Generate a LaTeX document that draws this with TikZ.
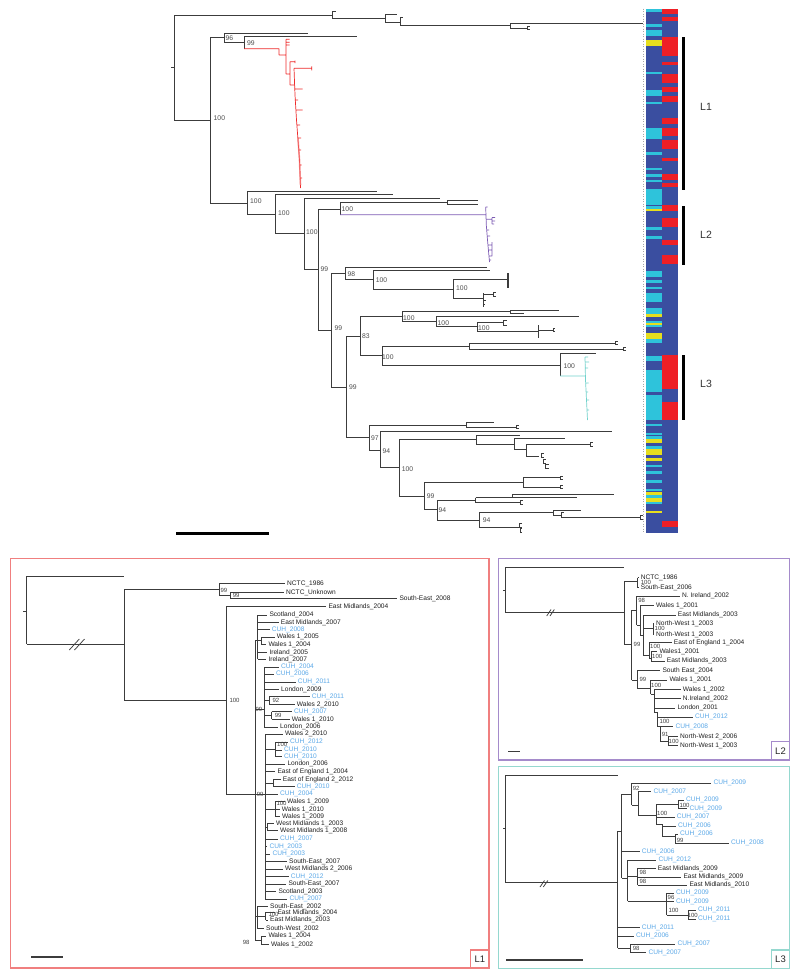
\documentclass[tikz,border=0pt]{standalone}
\usepackage{fontspec}
\setmainfont{Liberation Sans}
\definecolor{brc}{HTML}{3C3C3C}
\definecolor{cuh}{HTML}{5AA8E8}
\definecolor{hblue}{HTML}{3A4EA0}
\definecolor{hcyan}{HTML}{2EC3DB}
\definecolor{hyel}{HTML}{E6DE1E}
\definecolor{hred}{HTML}{EE1F26}
\definecolor{cred}{HTML}{EE2B2B}
\definecolor{cpur}{HTML}{7D5CB4}
\definecolor{ctea}{HTML}{72D2CC}
\definecolor{fLa}{HTML}{F07F7F}
\definecolor{fLb}{HTML}{A58BCB}
\definecolor{fLc}{HTML}{95D8CF}
\newcounter{nn}
\tikzset{
 br/.style={draw=brc,line width=0.9pt},
 pbr/.style={draw=brc,line width=0.75pt},
 lab/.style={anchor=west,inner xsep=2.2pt,inner ysep=0pt,font=\fontsize{6.6}{7}\selectfont,text=black!88},
 cu/.style={text=cuh},
 bsv/.style={anchor=west,inner sep=0pt,font=\fontsize{6}{6.5}\selectfont,text=black!75},
 msv/.style={anchor=west,inner sep=0pt,font=\fontsize{6.8}{7}\selectfont,text=black!70},
 biglab/.style={anchor=west,inner sep=0pt,font=\fontsize{10.5}{12}\selectfont,text=black!80},
 boxlab/.style={inner sep=0pt,font=\fontsize{9.5}{10}\selectfont,text=black!85},
}
\newcommand{\leafl}[5][]{\stepcounter{nn}\edef\lnm{n\arabic{nn}}\node[lab,#1] (\lnm) at (#4-2.2,#3) {#5};\draw[pbr] (#2,#3) -- (\lnm.west);}
\newcommand{\suppv}[3]{\stepcounter{nn}\node[bsv] (n\arabic{nn}) at (#1,#2) {#3};}
\newcommand{\mainsv}[3]{\stepcounter{nn}\node[msv] (n\arabic{nn}) at (#1,#2) {#3};}
\newcommand{\frk}[4]{\draw[br] (#1,#2-#3)--(#1,#2+#3) (#1,#2-#3)--(#1+#4,#2-#3) (#1,#2+#3)--(#1+#4,#2+#3);}
\begin{document}
\begin{tikzpicture}[x=1pt,y=-1pt]
\useasboundingbox (0,0) rectangle (800,977);
\fill[white] (0,0) rectangle (800,977);
% ================= MAIN TREE =================
\draw[br]
 (171,67)--(174,67) (174,15)--(174,120)
 (174,15)--(332,15) (332,11)--(332,18) (332,11)--(336,11) (332,18)--(385,18)
 (385,14)--(385,22) (385,14)--(397,14) (385,22)--(400,22) (400,17.5)--(400,25.7) (400,17.5)--(403,17.5)
 (400,25.7)--(510,25.7) (510,23.4)--(510,28) (510,23.4)--(643,23.4) (510,28)--(527,28)
 (174,120)--(210,120) (210,37)--(210,203)
 (210,37)--(224,37) (224,33)--(224,42) (224,33)--(308,33) (224,42)--(244,42) (244,36)--(244,48.7) (244,36)--(357,36)
 (210,203)--(247,203) (247,191.7)--(247,214) (247,191.7)--(377,191.7)
 (247,214)--(275,214) (275,194.7)--(275,233.7) (275,194.7)--(393,194.7)
 (275,233.7)--(304,233.7) (304,198)--(304,269) (304,198)--(440,198)
 (304,269)--(318,269) (318,209)--(318,330)
 (318,209)--(340,209) (340,202.7)--(340,214.7) (340,202.7)--(447,202.7) (447,200.7)--(447,204.7) (447,200.7)--(478,200.7) (447,204.7)--(478,204.7)
 (318,330)--(331,330) (331,273)--(331,387)
 (331,273)--(345,273) (345,267)--(345,279) (345,267)--(487,267)
 (345,279)--(373,279) (373,270)--(373,289) (373,270)--(490,270)
 (373,289)--(453,289) (453,279)--(453,298) (453,279)--(508,279)
 (453,298)--(483,298) (483,293)--(483,307) (483,294.3)--(493,294.3) (483,300)--(486,300) (483,304)--(485,304)
 (331,387)--(346,387) (346,336)--(346,437.7)
 (346,336)--(360,336) (360,316.7)--(360,355.7)
 (360,316.7)--(402,316.7) (402,311.7)--(402,321.7) (402,311.7)--(510,311.7) (510,310)--(510,313.3) (510,310)--(559,310) (510,313.3)--(524,313.3)
 (402,321.7)--(436,321.7) (436,316.7)--(436,326.7) (436,316.7)--(579,316.7)
 (436,326.7)--(477,326.7) (477,322.7)--(477,331.7) (477,322.7)--(503,322.7) (477,331.7)--(538,331.7) (538,325)--(538,338) (538,330)--(553,330)
 (360,355.7)--(382,355.7) (382,346)--(382,365) (382,346)--(469,346) (469,343)--(469,349) (469,343)--(615,343) (469,349)--(623,349)
 (382,365)--(560,365) (560,353)--(560,376) (560,353)--(596,353)
 (346,437.7)--(369,437.7) (369,425)--(369,450)
 (369,425)--(466,425) (466,422.7)--(466,427.3) (466,422.7)--(494,422.7) (466,427.3)--(516,427.3)
 (369,450)--(380,450) (380,431.7)--(380,467.7) (380,431.7)--(612,431.7)
 (380,467.7)--(399,467.7) (399,439.5)--(399,496)
 (399,439.5)--(476,439.5) (476,435)--(476,444) (476,435)--(520,435) (476,444)--(514.3,444)
 (514.3,438.3)--(514.3,449.3) (514.3,438.3)--(565,438.3) (514.3,449.3)--(526,449.3)
 (526,444.3)--(526,456) (526,444.3)--(590,444.3) (526,456)--(539.3,456)
 (399,496)--(424,496) (424,482)--(424,509)
 (424,482)--(523,482) (523,477.7)--(523,487.3) (523,477.7)--(560,477.7) (523,487.3)--(560,487.3)
 (424,509)--(437,509) (437,500)--(437,520)
 (437,500)--(475.7,500) (475.7,497.7)--(475.7,502.7) (475.7,497.7)--(512.3,497.7) (512.3,494)--(512.3,497.7) (512.3,494)--(614.3,494) (512.3,497.7)--(576.7,497.7) (475.7,502.7)--(520,502.7)
 (437,520)--(479,520) (479,512)--(479,527)
 (479,512)--(553,512) (553,510)--(553,515.7) (553,510)--(581,510) (553,515.7)--(561,515.7) (561,512.7)--(561,517.7) (561,517.7)--(640,517.7) (561,512.7)--(564,512.7)
 (479,527)--(519,527);
\frk{527}{28}{1.5}{3}
\frk{503}{322.7}{2.5}{4}
\frk{493}{294.3}{1.8}{3}
\frk{615}{343}{1.2}{3}
\frk{623}{349}{1.2}{3}
\frk{516}{427.3}{1.5}{3}
\frk{590}{444.3}{1.7}{3}
\frk{560}{477.7}{1.5}{2.5}
\frk{560}{487.3}{1.5}{2.5}
\frk{520}{502.7}{2}{3}
\frk{640}{517.7}{1.8}{3}
\frk{553}{330}{1.5}{2}
\frk{541}{455}{2}{3}
\frk{543}{461}{2}{3}
\frk{545}{466}{2}{4}
\frk{519}{525}{2}{3}
\frk{520}{530}{2}{2}
\draw[brc,line width=1.4pt] (508,273)--(508,288);
% red clade
\draw[cred,line width=0.7pt] (244,48.7)--(279,48.7) (279,48.7)--(279,55) (279,55)--(286,55)
 (286,39.3)--(286,74) (286,39.3)--(289.5,39.3) (286,42.3)--(289.5,42.3) (286,45)--(289.5,45)
 (286,74)--(290,74) (290,61.7)--(290,85) (290,61.7)--(295,61.7) (295,60.5)--(295,63)
 (290,85)--(294,85) (294,68.3)--(295,95)--(296.5,120)--(298,140)--(299.5,160)--(300.5,188)
 (294,68.3)--(311.7,68.3) (311.7,66.3)--(311.7,70.3)
 (294.7,89)--(302.7,89) (296.2,110)--(302.7,110) (295.5,100)--(298,100) (297,125)--(300,125) (298,138)--(301,138) (298.7,150)--(301,150) (299.3,165)--(301.5,165) (300,178)--(302,178);
\draw[cred!70,line width=1.6pt,opacity=.6] (298,138)--(299.5,160)--(300.5,185);
% purple clade
\draw[cpur,line width=0.7pt] (340,214.7)--(485.7,214.7) (485.7,207)--(486.3,225)--(487.5,240)--(489.5,262)
 (486,219.3)--(492,219.3) (492,217.5)--(492,224) (492,217.5)--(495,217.5) (492,221)--(495,221) (492,224)--(494,224)
 (486.5,230)--(489,230) (487,236)--(490,236) (488.5,245)--(492,245) (492,242)--(492,256) (488.8,250)--(492,250) (489,256)--(492,256) (489.3,260)--(491,260) (485.7,207)--(487.5,207);
% teal clade
\draw[ctea,line width=0.7pt] (560,376)--(585,376) (585,357)--(585.5,380)--(586.5,400)--(587.5,420)
 (585,357)--(588,357) (585.2,362)--(589,362) (585.3,368)--(588,368) (585.5,383)--(588.5,383) (586,392)--(588,392) (586.5,400)--(589,400) (587,410)--(589,410);
% main support values
\mainsv{213.5}{118.3}{100}
\mainsv{225.5}{38.3}{96}
\mainsv{247}{43}{99}
\mainsv{250}{201.5}{100}
\mainsv{278}{213.3}{100}
\mainsv{306}{231.7}{100}
\mainsv{320.5}{269}{99}
\mainsv{341.5}{209.3}{100}
\mainsv{334.5}{328.3}{99}
\mainsv{347.5}{274.3}{98}
\mainsv{375.7}{280}{100}
\mainsv{456}{287.7}{100}
\mainsv{349}{386.7}{99}
\mainsv{362}{336}{83}
\mainsv{403}{318.3}{100}
\mainsv{437.5}{323.3}{100}
\mainsv{478}{328.3}{100}
\mainsv{382}{356.7}{100}
\mainsv{563.3}{365.7}{100}
\mainsv{371}{437.7}{97}
\mainsv{382.5}{450.7}{94}
\mainsv{401.7}{469}{100}
\mainsv{426.7}{495.7}{99}
\mainsv{438.5}{510}{94}
\mainsv{482.7}{520}{94}
% heatmap
\fill[hblue] (645.5,8.6) rectangle (678.1,533);
\foreach \a/\b in {8.6/12.0, 24.1/26.8, 30.2/36.1, 71.5/73.5, 90.0/95.5, 102.1/104.1, 127.5/139.2, 152.2/154.6, 167.7/170.4, 174.2/176.6, 180.4/182.1, 189.3/205.2, 206.2/208.6, 227.1/229.6, 236.4/238.5, 271.1/277.0, 280.1/282.8, 286.9/289.3, 292.8/302.4, 308.2/314.1, 321.0/323.0, 324.7/326.5, 338.5/342.6, 355.7/360.8, 370.4/392.4, 395.2/419.9, 423.7/426.1, 433.0/435.4, 436.4/439.2, 446.0/448.5, 464.6/467.4, 470.8/473.5, 479.7/482.5, 488.7/491.4, 494.8/498.3, 501.7/503.8}
  \fill[hcyan] (645.5,\a) rectangle (662,\b);
\foreach \a/\b in {39.9/46.0, 208.6/211.0, 314.1/317.2, 323.0/324.7, 333.3/338.5, 439.2/442.6, 448.5/454.6, 458.1/460.5, 492.4/494.8, 498.3/501.7, 511.3/513.4}
  \fill[hyel] (645.5,\a) rectangle (662,\b);
\foreach \a/\b in {8.6/14.4, 17.2/20.6, 37.1/55.7, 61.9/64.6, 74.2/83.2, 86.6/92.1, 96.2/102.4, 118.2/123.7, 127.5/136.1, 140.2/148.5, 158.1/160.8, 173.9/180.4, 183.2/186.6, 205.2/211.0, 218.2/226.8, 239.5/244.7, 255.0/263.9, 355.0/389.3, 402.1/419.9, 520.6/526.5}
  \fill[hred] (662,\a) rectangle (678.1,\b);
\draw[gray!70,dotted,line width=0.5pt] (643.7,8.6)--(643.7,533);
\fill[black] (681.5,37.1) rectangle (685,189.7);
\fill[black] (681.5,205.5) rectangle (685,264.6);
\fill[black] (681.5,355.0) rectangle (685,419.9);
\node[biglab] (labA) at (700,106.5) {L1};
\node[biglab] (labB) at (700,234.7) {L2};
\node[biglab] (labC) at (700,383.8) {L3};
\draw[black,line width=3pt] (176,533.3)--(269,533.3);
% ================= L1 PANEL =================
\draw[fLa,line width=1.3pt] (10.7,558.3) rectangle (489,968);
\draw[fLa,line width=1.3pt] (470.7,950) rectangle (489,968);
\node[boxlab] (boxA) at (479.9,959) {L1};
\draw[pbr] (23.3,611)--(26.7,611) (26.7,576)--(26.7,644.3) (26.7,576)--(124.3,576) (26.7,644.3)--(124.3,644.3)
 (124.3,589)--(124.3,700) (124.3,589)--(219.3,589) (219.3,583.7)--(219.3,595) (219.3,595)--(230,595) (230,592.3)--(230,598.3)
 (124.3,700)--(226,700) (226,606.5)--(226,794) (226,794)--(265,794)
 (255,640.6)--(255,940) (255,640.6)--(257.7,640.6) (257.7,615)--(257.7,659.3) (257.7,640.6)--(261,640.6) (261,637)--(261,644.3)
 (255,709)--(264.3,709) (264.3,667)--(264.3,727) (264.3,700.5)--(269.3,700.5) (269.3,696.7)--(269.3,704.3) (264.3,715.5)--(271.7,715.5) (271.7,711.7)--(271.7,719.3)
 (265,734)--(265,899) (265,749.5)--(275,749.5) (275,742.3)--(275,756.7) (265,783)--(273.3,783) (273.3,779.3)--(273.3,786.7) (265,809.3)--(275,809.3) (275,801.7)--(275,816.7) (265,827)--(267.3,827) (267.3,823.3)--(267.3,830.7)
 (255,916)--(257.3,916) (257.3,906.7)--(257.3,928.3) (257.3,916)--(265.7,916) (265.7,912.3)--(265.7,920) (255,940)--(261,940) (261,936)--(261,944.3);
\draw[pbr] (69.3,650)--(79.3,639) (74.5,650)--(84.5,639);
\leafl{219.3}{583.7}{287}{NCTC\_1986}
\leafl{230}{592.3}{286}{NCTC\_Unknown}
\leafl{230}{598.3}{399.3}{South-East\_2008}
\leafl{226}{606.5}{328.3}{East Midlands\_2004}
\leafl{257.7}{615}{269.3}{Scotland\_2004}
\leafl{257.7}{622.3}{280.7}{East Midlands\_2007}
\leafl[cu]{257.7}{629.7}{271.7}{CUH\_2008}
\leafl{261}{637}{276.7}{Wales 1\_2005}
\leafl{261}{644.3}{268.3}{Wales 1\_2004}
\leafl{257.7}{652.3}{269.3}{Ireland\_2005}
\leafl{257.7}{659.3}{268.3}{Ireland\_2007}
\leafl[cu]{264.3}{667}{281}{CUH\_2004}
\leafl[cu]{264.3}{674.3}{276}{CUH\_2006}
\leafl[cu]{264.3}{682}{297.7}{CUH\_2011}
\leafl{264.3}{689.7}{281}{London\_2009}
\leafl[cu]{269.3}{696.7}{311.7}{CUH\_2011}
\leafl{269.3}{704.3}{296.7}{Wales 2\_2010}
\leafl[cu]{271.7}{711.7}{294}{CUH\_2007}
\leafl{271.7}{719.3}{291.7}{Wales 1\_2010}
\leafl{264.3}{727}{280}{London\_2006}
\leafl{265}{734}{285}{Wales 2\_2010}
\leafl[cu]{275}{742.3}{290}{CUH\_2012}
\leafl[cu]{275}{750}{284}{CUH\_2010}
\leafl[cu]{275}{756.7}{284}{CUH\_2010}
\leafl{265}{764}{287.3}{London\_2006}
\leafl{265}{771.7}{277.3}{East of England 1\_2004}
\leafl{273.3}{779.3}{282.7}{East of England 2\_2012}
\leafl[cu]{273.3}{786.7}{296.7}{CUH\_2010}
\leafl[cu]{265}{794}{280}{CUH\_2004}
\leafl{275}{801.7}{287}{Wales 1\_2009}
\leafl{275}{809.3}{281.7}{Wales 1\_2010}
\leafl{275}{816.7}{282}{Wales 1\_2009}
\leafl{267.3}{823.3}{276}{West Midlands 1\_2003}
\leafl{267.3}{830.7}{280}{West Midlands 1\_2008}
\leafl[cu]{265}{839}{280}{CUH\_2007}
\leafl[cu]{265}{846.7}{269.3}{CUH\_2003}
\leafl[cu]{265}{854}{272.3}{CUH\_2003}
\leafl{265}{861.7}{289}{South-East\_2007}
\leafl{265}{869}{285}{West Midlands 2\_2006}
\leafl[cu]{265}{876.7}{290.7}{CUH\_2012}
\leafl{265}{884}{288.3}{South-East\_2007}
\leafl{265}{891.7}{278.3}{Scotland\_2003}
\leafl[cu]{265}{899}{289.3}{CUH\_2007}
\leafl{257.3}{906.7}{270}{South-East\_2002}
\leafl{265.7}{912.3}{277.3}{East Midlands\_2004}
\leafl{265.7}{920}{270}{East Midlands\_2003}
\leafl{257.3}{928.3}{266}{South-West\_2002}
\leafl{261}{936}{268.3}{Wales 1\_2004}
\leafl{261}{944.3}{271}{Wales 1\_2002}
\suppv{220.3}{590}{99}
\suppv{232.7}{595.7}{99}
\suppv{229.3}{700}{100}
\suppv{255.3}{709.3}{99}
\suppv{272.3}{700.3}{92}
\suppv{274.7}{715.5}{99}
\suppv{277}{744.3}{100}
\suppv{256.7}{794}{99}
\suppv{276.3}{803.3}{100}
\suppv{268.3}{914.3}{100}
\suppv{242.7}{942.3}{98}
\draw[pbr,line width=1.1pt] (31,957)--(63.3,957);
% ================= L2 PANEL =================
\draw[fLb,line width=1.3pt] (498.3,558.3) rectangle (789.3,760);
\draw[fLb,line width=1.3pt] (771.7,741.7) rectangle (789.3,760);
\node[boxlab] (boxB) at (780.5,750.9) {L2};
\draw[pbr] (503.3,590)--(505.3,590) (505.3,567.7)--(505.3,612.7) (505.3,567.7)--(624.3,567.7) (505.3,612.7)--(624.3,612.7)
 (624.3,581.7)--(624.3,644.3) (624.3,581.7)--(637.7,581.7) (637.7,577.5)--(637.7,587.5)
 (624.3,644.3)--(631.7,644.3) (631.7,610)--(631.7,680)
 (631.7,610)--(636.7,610) (636.7,596)--(636.7,625) (636.7,625)--(640,625) (640,605.7)--(640,635)
 (640,635)--(643.3,635) (643.3,615)--(643.3,655) (643.3,628.8)--(653.3,628.8) (653.3,623.3)--(653.3,634.3)
 (643.3,655)--(649,655) (649,642.7)--(649,658) (649,658)--(651,658) (651,651.7)--(651,661)
 (631.7,680)--(637.3,680) (637.3,670.7)--(637.3,688.3) (637.3,688.3)--(650.7,688.3) (650.7,680)--(650.7,694)
 (650.7,694)--(654,694) (654,689.3)--(654,712) (654,712)--(657,712) (657,712)--(657,726) (657,726)--(660,726) (660,726.7)--(660,741)
 (660,741)--(668.3,741) (668.3,736.3)--(668.3,745.7);
\draw[pbr] (546.7,616)--(551,609.5) (550,616)--(554.3,609.5);
\leafl{637.7}{577.5}{640.7}{NCTC\_1986}
\leafl{637.7}{587.5}{640.7}{South-East\_2006}
\leafl{636.7}{596}{682}{N. Ireland\_2002}
\leafl{640}{605.7}{656}{Wales 1\_2001}
\leafl{643.3}{615}{677.7}{East Midlands\_2003}
\leafl{653.3}{623.3}{656}{North-West 1\_2003}
\leafl{653.3}{634.3}{656}{North-West 1\_2003}
\leafl{649}{642.7}{673.7}{East of England 1\_2004}
\leafl{651}{651.7}{659.3}{Wales1\_2001}
\leafl{651}{661}{666.7}{East Midlands\_2003}
\leafl{637.3}{670.7}{662.3}{South East\_2004}
\leafl{650.7}{680}{669.3}{Wales 1\_2001}
\leafl{654}{689.3}{682.7}{Wales 1\_2002}
\leafl{654}{698.7}{682.7}{N.Ireland\_2002}
\leafl{654}{708}{677.3}{London\_2001}
\leafl[cu]{657}{717.3}{695}{CUH\_2012}
\leafl[cu]{660}{726.7}{675.3}{CUH\_2008}
\leafl{668.3}{736.3}{680}{North-West 2\_2006}
\leafl{668.3}{745.7}{680}{North-West 1\_2003}
\suppv{640.7}{582.3}{100}
\suppv{633.5}{644.3}{99}
\suppv{638.2}{600.7}{98}
\suppv{654.5}{628.5}{100}
\suppv{650}{646}{100}
\suppv{652}{656.5}{100}
\suppv{639.3}{679.3}{99}
\suppv{651}{685}{100}
\suppv{659.3}{721.7}{100}
\suppv{661.7}{734}{91}
\suppv{668.5}{741.3}{100}
\draw[pbr,line width=1.1pt] (508.3,751.7)--(520,751.7);
% ================= L3 PANEL =================
\draw[fLc,line width=1.3pt] (498.3,766.7) rectangle (789.3,968.3);
\draw[fLc,line width=1.3pt] (771.7,950) rectangle (789.3,968.3);
\node[boxlab] (boxC) at (780.5,959.2) {L3};
\draw[pbr] (503.3,828.3)--(505.3,828.3) (505.3,775)--(505.3,882.3) (505.3,775)--(617.7,775) (505.3,882.3)--(617.7,882.3)
 (617.7,831)--(617.7,948.3) (617.7,831)--(621.7,831) (621.7,794)--(621.7,878.3)
 (621.7,794)--(631.7,794) (631.7,783.3)--(631.7,805) (631.7,805)--(638.3,805) (638.3,791.7)--(638.3,815) (638.3,815)--(656,815) (656,804)--(656,824) (656,804)--(678.3,804) (678.3,800)--(678.3,808.7) (656,824)--(662.3,824) (662.3,824)--(662.3,836) (662.3,836)--(675,836) (675,834.3)--(675,843)
 (621.7,878.3)--(627.7,878.3) (627.7,860)--(627.7,901) (627.7,876.7)--(637.7,876.7) (637.7,868.3)--(637.7,885) (627.7,901)--(666.7,901) (666.7,893.3)--(666.7,915) (666.7,915)--(688.3,915) (688.3,910.3)--(688.3,919)
 (617.7,948.3)--(630,948.3) (630,944.3)--(630,952.7);
\draw[pbr] (540,887)--(544.5,880.5) (543.3,887)--(547.8,880.5);
\leafl[cu]{631.7}{783.3}{713.3}{CUH\_2009}
\leafl[cu]{638.3}{791.7}{653.3}{CUH\_2007}
\leafl[cu]{678.3}{800}{686}{CUH\_2009}
\leafl[cu]{678.3}{808.7}{689.3}{CUH\_2009}
\leafl[cu]{656}{817.3}{676.7}{CUH\_2007}
\leafl[cu]{662.3}{826}{678}{CUH\_2006}
\leafl[cu]{675}{834.3}{680}{CUH\_2006}
\leafl[cu]{675}{843}{731}{CUH\_2008}
\leafl[cu]{621.7}{851.7}{641.7}{CUH\_2006}
\leafl[cu]{627.7}{860}{658.3}{CUH\_2012}
\leafl{637.7}{868.3}{657.7}{East Midlands\_2009}
\leafl{637.7}{877}{683.3}{East Midlands\_2009}
\leafl{637.7}{885}{689.3}{East Midlands\_2010}
\leafl[cu]{666.7}{893}{676}{CUH\_2009}
\leafl[cu]{666.7}{901.7}{676}{CUH\_2009}
\leafl[cu]{688.3}{910.3}{698}{CUH\_2011}
\leafl[cu]{688.3}{919}{698}{CUH\_2011}
\leafl[cu]{617.7}{927.7}{641.7}{CUH\_2011}
\leafl[cu]{617.7}{936}{636}{CUH\_2006}
\leafl[cu]{630}{944.3}{677.3}{CUH\_2007}
\leafl[cu]{630}{952.7}{648.3}{CUH\_2007}
\suppv{632.7}{788.3}{92}
\suppv{679.3}{805}{100}
\suppv{657}{813.3}{100}
\suppv{676.7}{840}{99}
\suppv{639.3}{872.7}{98}
\suppv{639.3}{881.7}{98}
\suppv{667.5}{897.5}{96}
\suppv{668.3}{910}{100}
\suppv{687.5}{915}{100}
\suppv{632.7}{948.3}{98}
\draw[pbr,line width=1.1pt] (506,960)--(582.7,960);
\end{tikzpicture}
\end{document}
